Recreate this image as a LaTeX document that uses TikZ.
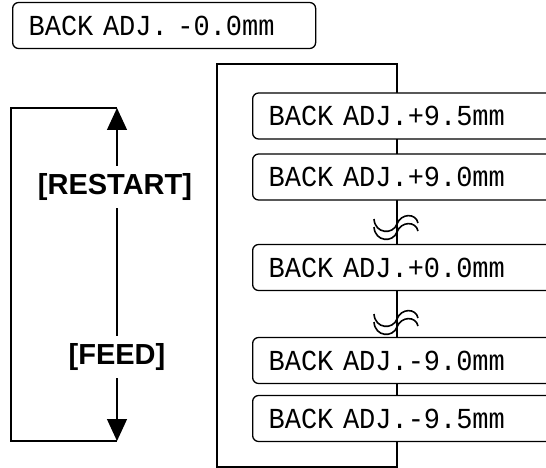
\documentclass[tikz,border=0pt]{standalone}
\usepackage{fontspec}
\setmainfont{Liberation Sans}
\newfontfamily\lcdfont[FakeStretch=0.93]{Liberation Mono}
\usetikzlibrary{arrows.meta}
\begin{document}
\begin{tikzpicture}[x=1pt,y=-1pt,line width=1.3pt,
  lcd/.style={draw,rounded corners=6pt,fill=white,minimum height=46pt,inner xsep=16pt,inner ysep=0pt,
    font=\lcdfont\fontsize{29}{32}\selectfont,align=left,anchor=west},
  key/.style={font=\bfseries\fontsize{29}{33}\selectfont,inner xsep=0pt,inner ysep=7pt},
  tip/.style={-{Triangle[length=22pt,width=20pt]}}]
\useasboundingbox (0,0) rectangle (546,468);
\clip (0,0) rectangle (546,468);
% current value
\node[lcd,text width=271pt] (cur) at (12,25.5) {BACK ADJ. -0.0mm};
% left loop
\node[key] (restart) at (115,187) {[RESTART]};
\node[key] (feed) at (117,357) {[FEED]};
\coordinate (up) at (117,108);
\coordinate (down) at (117,441);
\draw[tip] (restart.north -| up) -- (up);
\draw (restart.south -| up) -- (feed.north -| up);
\draw[tip] (feed.south -| down) -- (down);
\draw (up) -| (11,441) -- (down);
% setting list
\draw (397,64) -- (217,64) -- (217,467) -- (397,467) -- cycle;
\foreach \y/\val [count=\i] in {116/+9.5,177/+9.0,267.5/+0.0,360.5/-9.0,418.5/-9.5}
  \node[lcd,text width=300pt] (adj\i) at (252,\y) {BACK ADJ.\val mm};
% breaks
\foreach \c in {225,320} \foreach \d in {0,8}
  \draw[line width=1.6pt] (374,\c+\d-6) .. controls (375,\c+\d+9) and (393,\c+\d+10) .. (397,\c+\d-1)
    .. controls (401,\c+\d-12) and (416,\c+\d-12) .. (418,\c+\d-2);
\end{tikzpicture}
\end{document}
